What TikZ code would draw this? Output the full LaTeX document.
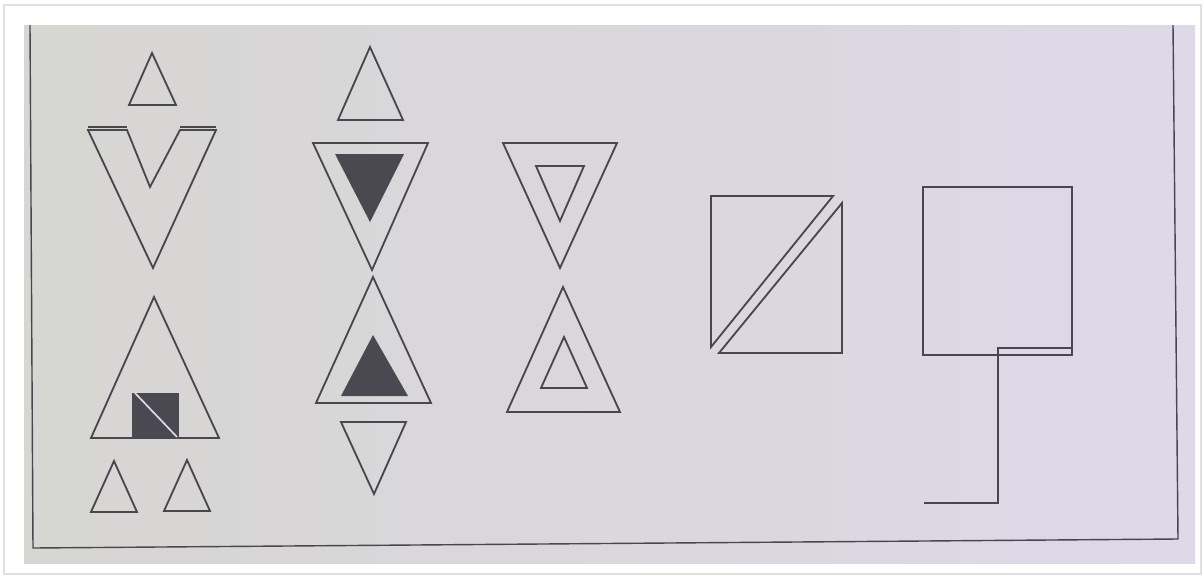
\documentclass[tikz,border=0pt]{standalone}
\usepackage{tikz}
\usepackage{xcolor}
\definecolor{screen}{RGB}{222,216,232}
\definecolor{screenb}{RGB}{214,214,210}
\definecolor{ink}{RGB}{72,70,78}
\definecolor{blot}{RGB}{74,72,80}

\begin{document}
\begin{tikzpicture}[
  x=0.025cm, y=-0.025cm,
  outline/.style={draw=ink, line width=1.3pt, line join=miter},
  darkfill/.style={fill=blot, draw=none},
  frameline/.style={draw=ink, line width=1pt}]
\useasboundingbox (0,0) rectangle (1204,580);
\fill[white] (0,0) rectangle (1204,580);
\draw[black!12, line width=0.8pt] (4,5) rectangle (1201,574);
\shade[left color=screenb, right color=screen] (24,25) rectangle (1195,563);
\draw[frameline] (30,25) -- (33,548) -- (1178,539) -- (1173,25);
% first column
\draw[outline] (152,53) -- (176,105) -- (129,105) -- cycle;
\draw[outline] (88,130) -- (127,130) -- (150,187) -- (180,130) -- (216,130) -- (153,268) -- cycle;
\draw[outline] (88,127) -- (127,127) (180,127) -- (216,127);
\draw[outline] (154,297) -- (219,438) -- (91,438) -- cycle;
\fill[darkfill] (132,393) rectangle (179,439);
\draw[screen, line width=1.2pt] (135,393) -- (177,437);
\foreach \cx/\ty in {114/461, 187/460}
  \draw[outline] (\cx,\ty) -- (\cx+23,\ty+51) -- (\cx-23,\ty+51) -- cycle;
% second column
\draw[outline] (370,47) -- (403,120) -- (338,120) -- cycle;
\draw[outline] (313,143) -- (428,143) -- (372,270) -- cycle;
\fill[darkfill] (335,154) -- (404,154) -- (370,222) -- cycle;
\draw[outline] (373,277) -- (431,403) -- (316,403) -- cycle;
\fill[darkfill] (373,335) -- (408,396) -- (341,396) -- cycle;
\draw[outline] (341,422) -- (406,422) -- (374,494) -- cycle;
% third column
\draw[outline] (503,143) -- (617,143) -- (560,268) -- cycle;
\draw[outline] (536,166) -- (584,166) -- (560,221) -- cycle;
\draw[outline] (563,287) -- (620,412) -- (507,412) -- cycle;
\draw[outline] (564,337) -- (587,388) -- (541,388) -- cycle;
% split rectangle
\draw[outline] (711,196) -- (833,196) -- (711,347) -- cycle;
\draw[outline] (842,203) -- (842,353) -- (719,353) -- cycle;
% square with hook
\draw[outline] (923,187) rectangle (1072,355);
\draw[outline] (1072,348) -- (998,348) -- (998,503) -- (924,503);
\end{tikzpicture}
\end{document}
